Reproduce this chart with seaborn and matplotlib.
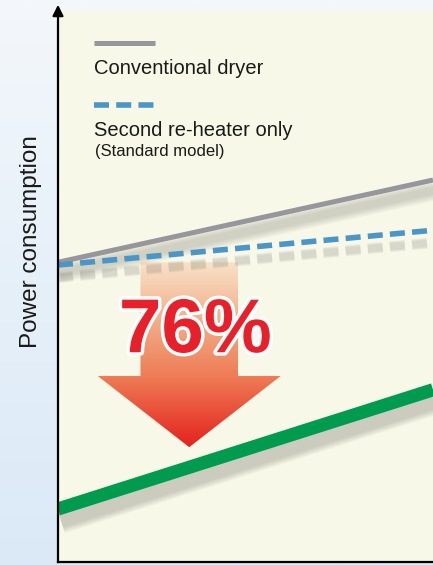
import numpy as np
import matplotlib
matplotlib.use("Agg")
import matplotlib.pyplot as plt
import matplotlib.patheffects as pe
from matplotlib.colors import LinearSegmentedColormap
from matplotlib.patches import Polygon
import seaborn as sns

# 数据（概念图，纵轴为相对耗电量）
x_points = [0, 10]
conventional = [54.3, 69.2]      # Conventional dryer
second_reheater = [53.8, 60.1]   # Second re-heater only (Standard model)
new_model = [9.6, 31.2]          # 新机型（绿色线）
reduction_label = "76%"

legend_labels = ["Conventional dryer", "Second re-heater only", "(Standard model)"]
y_label = "Power consumption"

# 颜色
GRAY = "#96969c"
BLUE = "#4a96c8"
GREEN = "#009b4e"
RED = "#e8202a"
CREAM = "#f7f8e7"

sns.set_style("white")
plt.rcParams['font.family'] = ['Liberation Sans', 'DejaVu Sans']


def soft_shadow(lw, offset, steps=5, alpha=0.06, spread=2.2):
    """
    用多层半透明阴影模拟模糊阴影
    """
    effects = [pe.SimpleLineShadow(offset=offset, shadow_color='#5a5a50', alpha=alpha,
                                   rho=1.0, linewidth=lw + spread * i)
               for i in range(steps, 0, -1)]
    return effects + [pe.Normal()]


fig = plt.figure(figsize=(4.33, 5.65), dpi=100)

# 背景渐变
bg = fig.add_axes([0, 0, 1, 1], zorder=-2)
bg_cmap = LinearSegmentedColormap.from_list('bg', ['#dbe9f7', '#e6f0f9', '#f4f7fb'])
grad = np.linspace(0, 1, 256).reshape(-1, 1) * np.ones((1, 8))
bg.imshow(grad, cmap=bg_cmap, aspect='auto', origin='lower', extent=[0, 1, 0, 1])
bg.set_axis_off()

ax = fig.add_axes([58 / 433, 3 / 565, 375 / 433, 552 / 565])
ax.set_facecolor(CREAM)
ax.set_xlim(0, 10)
ax.set_ylim(0, 100)

# 降幅箭头（渐变填充）
cx = 3.5
shaft_top = conventional[0]
head_base, tip_y = 33.7, 20.8
arrow_poly = [(cx - 1.3, shaft_top), (cx + 1.3, shaft_top), (cx + 1.3, head_base),
              (cx + 2.44, head_base), (cx, tip_y), (cx - 2.44, head_base),
              (cx - 1.3, head_base)]
arrow_cmap = LinearSegmentedColormap.from_list(
    'arrow', [(0.0, '#e4221e'), (0.38, '#ee7c55'), (0.7, '#f3b08c'), (1.0, '#f8e2c8')])
grad2 = np.linspace(0, 1, 256).reshape(-1, 1) * np.ones((1, 4))
im = ax.imshow(grad2, cmap=arrow_cmap, aspect='auto', origin='lower',
               extent=[cx - 2.5, cx + 2.5, tip_y, shaft_top], zorder=1)
clip = Polygon(arrow_poly, closed=True, transform=ax.transData, facecolor='none', edgecolor='none')
ax.add_patch(clip)
im.set_clip_path(clip)

# 三条线
sns.lineplot(x=x_points, y=conventional, color=GRAY, linewidth=3.6, ax=ax, zorder=3)
ax.lines[-1].set_path_effects(soft_shadow(3.6, (1, -7.5), alpha=0.05))

sns.lineplot(x=x_points, y=second_reheater, color=BLUE, linewidth=4.0, ax=ax, zorder=3)
ax.lines[-1].set_dashes((2.7, 1.3))
ax.lines[-1].set_path_effects(soft_shadow(4.0, (0, -9), steps=4, alpha=0.05, spread=1.0))

sns.lineplot(x=x_points, y=new_model, color=GREEN, linewidth=9.5, ax=ax, zorder=3)
ax.lines[-1].set_path_effects(soft_shadow(9.5, (2, -8), alpha=0.06, spread=2.0))
for ln in ax.lines:
    ln.set_solid_capstyle('butt')

ax.set_xlim(0, 10)
ax.set_ylim(0, 100)

# 76% 文字
ax.text(3.66, 38.0, reduction_label, color=RED, fontsize=55, fontweight='bold',
        ha='center', va='baseline', zorder=5,
        path_effects=[pe.withStroke(linewidth=5, foreground='white')])

# 图例（线在上、文字在下）
ax.plot([0.096, 0.259], [0.940, 0.940], transform=ax.transAxes, color=GRAY,
        linewidth=3.6, solid_capstyle='butt', zorder=4)
ax.text(0.096, 0.884, legend_labels[0], transform=ax.transAxes, fontsize=14.5,
        color='#1a1a1a', ha='left', va='baseline')
blue_key, = ax.plot([0.096, 0.257], [0.828, 0.828], transform=ax.transAxes, color=BLUE,
                    linewidth=4.0, zorder=4)
blue_key.set_dashes((2.7, 1.3))
ax.text(0.096, 0.772, legend_labels[1], transform=ax.transAxes, fontsize=14.5,
        color='#1a1a1a', ha='left', va='baseline')
ax.text(0.098, 0.735, legend_labels[2], transform=ax.transAxes, fontsize=12,
        color='#1a1a1a', ha='left', va='baseline')

# 坐标轴样式
ax.set_xticks([])
ax.set_yticks([])
for side in ['top', 'right']:
    ax.spines[side].set_visible(False)
for side in ['left', 'bottom']:
    ax.spines[side].set_color('black')
    ax.spines[side].set_linewidth(1.6)
    ax.spines[side].set_zorder(6)
ax.annotate('', xy=(0, 1.0145), xytext=(0, 0.99), xycoords='axes fraction',
            arrowprops=dict(arrowstyle='-|>', color='black', lw=1.6, mutation_scale=16),
            annotation_clip=False)

ax.set_ylabel(y_label, fontsize=17.5, color='#1a1a1a')
ax.yaxis.set_label_coords(-0.043, 0.58)

fig.savefig('out.png', dpi=100)
plt.close(fig)
